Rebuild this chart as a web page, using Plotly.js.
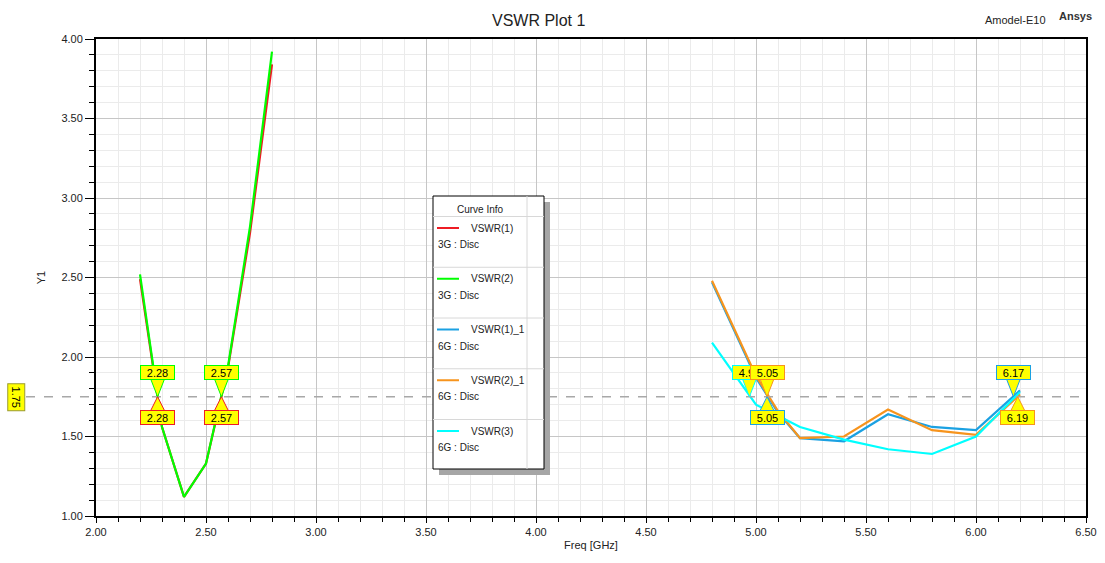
<!DOCTYPE html>
<html>
<head>
<meta charset="utf-8">
<script src="https://cdn.plot.ly/plotly-3.0.1.min.js"></script>
<style>
html,body{margin:0;padding:0;background:#fff;}
#chart{width:1105px;height:563px;}
</style>
</head>
<body>
<div id="chart"></div>
<script>
// ---- data ----
var freq3G = [2.2, 2.3, 2.4, 2.5, 2.6, 2.7, 2.8];
var vswr1_3G = [2.49, 1.56, 1.12, 1.33, 1.93, 2.78, 3.84];
var vswr2_3G = [2.52, 1.56, 1.12, 1.33, 1.94, 2.82, 3.92];

var freq6G = [4.8, 5.0, 5.1, 5.2, 5.4, 5.6, 5.8, 6.0, 6.2];
var vswr1_6G = [2.47, 1.87, 1.65, 1.49, 1.47, 1.64, 1.56, 1.54, 1.79];
var vswr2_6G = [2.48, 1.88, 1.66, 1.49, 1.50, 1.67, 1.54, 1.51, 1.765];
var vswr3_6G = [2.09, 1.70, 1.63, 1.56, 1.48, 1.42, 1.39, 1.50, 1.78];

var seriesNames = ['VSWR(1)', 'VSWR(2)', 'VSWR(1)_1', 'VSWR(2)_1', 'VSWR(3)'];
var seriesSetups = ['3G : Disc', '3G : Disc', '6G : Disc', '6G : Disc', '6G : Disc'];
var seriesColors = ['#ee1c24', '#00ff00', '#1ba1e2', '#f7941d', '#00ffff'];

var refLevel = 1.75;
// marker crossings: x value, series index, side (1 above, -1 below)
var markerX = [2.28, 2.28, 2.57, 2.57, 4.97, 5.05, 5.05, 6.17, 6.19];
var markerSeries = [1, 0, 1, 0, 4, 3, 2, 2, 3];
var markerSide = [1, -1, 1, -1, 1, 1, -1, 1, -1];

var xTickVals = [2.0, 2.5, 3.0, 3.5, 4.0, 4.5, 5.0, 5.5, 6.0, 6.5];
var yTickVals = [1.0, 1.5, 2.0, 2.5, 3.0, 3.5, 4.0];

// ---- layout geometry ----
var W = 1105, H = 563;
var M = {l: 96, r: 19, t: 39, b: 47};
var PW = W - M.l - M.r, PH = H - M.t - M.b;
function px(x) { return (x - M.l) / PW; }
function py(y) { return (H - M.b - y) / PH; }

var FONT = 'Liberation Sans, Arial, sans-serif';

var xs = [freq3G, freq3G, freq6G, freq6G, freq6G];
var ys = [vswr1_3G, vswr2_3G, vswr1_6G, vswr2_6G, vswr3_6G];
var traces = [];
for (var i = 0; i < xs.length; i++) {
  traces.push({
    x: xs[i], y: ys[i], type: 'scatter', mode: 'lines',
    name: seriesNames[i], showlegend: false, hoverinfo: 'skip',
    line: {color: seriesColors[i], width: 2.2}
  });
}

var shapes = [];
var annotations = [];
function paperText(xp, yp, text, size, color, xanchor) {
  annotations.push({x: px(xp), y: py(yp), xref: 'paper', yref: 'paper', showarrow: false,
    xanchor: xanchor || 'center', yanchor: 'middle', text: text,
    font: {family: FONT, size: size, color: color}});
}

// reference dashed line
shapes.push({type: 'line', xref: 'paper', yref: 'y', x0: px(26), x1: 1, y0: refLevel, y1: refLevel,
  line: {color: '#a8a8a8', width: 1.5, dash: 'dash'}, layer: 'above'});

// markers
for (var k = 0; k < markerX.length; k++) {
  var c = seriesColors[markerSeries[k]];
  var s = markerSide[k];
  var path = s > 0 ? 'M0,0 L-7,18 L7,18 Z' : 'M0,0 L-7,-14 L7,-14 Z';
  shapes.push({type: 'path', xref: 'x', yref: 'y', xsizemode: 'pixel', ysizemode: 'pixel',
    xanchor: markerX[k], yanchor: refLevel, path: path,
    fillcolor: '#ffff00', line: {color: c, width: 1}, layer: 'above'});
  annotations.push({x: markerX[k], y: refLevel, xref: 'x', yref: 'y', showarrow: false,
    xanchor: 'center', yanchor: 'middle',
    text: markerX[k].toFixed(2), yshift: s > 0 ? 24 : -21,
    font: {family: FONT, size: 11, color: '#000'},
    bgcolor: '#ffff00', bordercolor: c, borderwidth: 1, borderpad: 0, width: 33, height: 13});
}

// y reference label
annotations.push({x: px(16.5), y: refLevel, xref: 'paper', yref: 'y', showarrow: false,
  xanchor: 'center', yanchor: 'middle',
  text: refLevel.toFixed(2), textangle: 90,
  font: {family: FONT, size: 11, color: '#000'},
  bgcolor: '#ffff00', bordercolor: '#9a9a30', borderwidth: 1, borderpad: 0, width: 26, height: 16});

// legend box "Curve Info"
var LX0 = 433, LX1 = 544, LY0 = 196, LY1 = 469;
shapes.push({type: 'rect', xref: 'paper', yref: 'paper', x0: px(LX0 + 6), x1: px(LX1 + 6), y0: py(LY0 + 6), y1: py(LY1 + 6),
  fillcolor: '#a6a6a6', line: {width: 0}, layer: 'above'});
shapes.push({type: 'rect', xref: 'paper', yref: 'paper', x0: px(LX0), x1: px(LX1), y0: py(LY0), y1: py(LY1),
  fillcolor: '#ffffff', line: {color: '#000', width: 1}, layer: 'above'});
shapes.push({type: 'line', xref: 'paper', yref: 'paper', x0: px(527), x1: px(527), y0: py(LY0), y1: py(LY1),
  line: {color: '#d8d8d8', width: 1}, layer: 'above'});
shapes.push({type: 'line', xref: 'paper', yref: 'paper', x0: px(LX0), x1: px(LX1), y0: py(216.5), y1: py(216.5),
  line: {color: '#d8d8d8', width: 1}, layer: 'above'});
paperText(480, 209.5, 'Curve Info', 10, '#222');
var rowH = 50.75;
for (var j = 0; j < seriesNames.length; j++) {
  var rowTop = 216.5 + j * rowH;
  if (j > 0) {
    shapes.push({type: 'line', xref: 'paper', yref: 'paper', x0: px(LX0), x1: px(LX1), y0: py(rowTop), y1: py(rowTop),
      line: {color: '#d8d8d8', width: 1}, layer: 'above'});
  }
  shapes.push({type: 'line', xref: 'paper', yref: 'paper', x0: px(437), x1: px(459), y0: py(rowTop + 11.5), y1: py(rowTop + 11.5),
    line: {color: seriesColors[j], width: 2}, layer: 'above'});
  paperText(469, rowTop + 11.5, seriesNames[j], 10, '#222', 'left');
  paperText(436, rowTop + 28, seriesSetups[j], 10, '#222', 'left');
}

// header texts
paperText(538, 20, 'VSWR Plot 1', 16, '#222');
paperText(1015, 20, 'Amodel-E10', 11, '#222');
paperText(1075, 16, '<b>Ansys</b>', 11, '#333');

var layout = {
  width: W, height: H,
  margin: {l: M.l, r: M.r, t: M.t, b: M.b, pad: 0},
  paper_bgcolor: '#fff', plot_bgcolor: '#fff',
  showlegend: false,
  font: {family: FONT, size: 11, color: '#222'},
  xaxis: {
    range: [2.0, 6.5], tickvals: xTickVals, ticktext: xTickVals.map(function(v){return v.toFixed(2);}),
    showgrid: true, gridcolor: '#c6c6c6', gridwidth: 1,
    ticks: 'outside', ticklen: 5, tickcolor: '#000', tickwidth: 1,
    showline: true, linecolor: '#000', linewidth: 2, mirror: true, zeroline: false,
    tickfont: {family: FONT, size: 11, color: '#222'},
    title: {text: 'Freq [GHz]', font: {family: FONT, size: 11, color: '#222'}, standoff: 4},
    minor: {dtick: 0.1, showgrid: true, gridcolor: '#ebebeb', gridwidth: 1, ticks: 'outside', ticklen: 4, tickcolor: '#000'}
  },
  yaxis: {
    range: [1.0, 4.0], tickvals: yTickVals, ticktext: yTickVals.map(function(v){return v.toFixed(2);}),
    showgrid: true, gridcolor: '#c6c6c6', gridwidth: 1,
    ticks: 'outside', ticklen: 9, tickcolor: '#000', tickwidth: 1,
    showline: true, linecolor: '#000', linewidth: 2, mirror: true, zeroline: false,
    tickfont: {family: FONT, size: 11, color: '#222'},
    title: {text: 'Y1', font: {family: FONT, size: 11, color: '#222'}, standoff: 14},
    minor: {dtick: 0.1, showgrid: true, gridcolor: '#ebebeb', gridwidth: 1, ticks: 'outside', ticklen: 5, tickcolor: '#000'}
  },
  shapes: shapes,
  annotations: annotations
};

Plotly.newPlot('chart', traces, layout, {staticPlot: true, displayModeBar: false});
</script>
</body>
</html>
